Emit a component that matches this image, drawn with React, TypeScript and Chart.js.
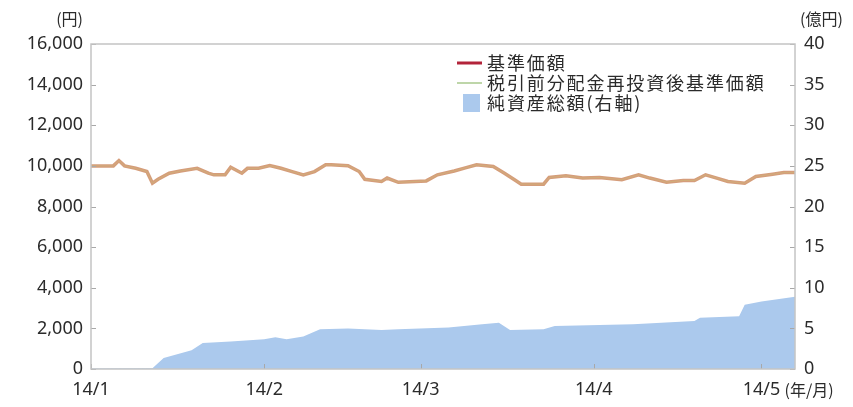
import { useEffect, useRef } from 'react';
import { Chart, registerables } from 'chart.js';

Chart.register(...registerables);

// Day index counted from 2014-01-01
const navDays = [0, 4, 5, 6, 8, 10, 11, 12, 14, 16, 19, 21, 22, 24, 25, 27, 28, 30, 32, 34, 36, 38, 40, 42, 43, 46, 48, 49, 52, 53, 55, 58, 60, 62, 65, 67, 69, 72, 74, 76, 77, 81, 82, 85, 88, 91, 95, 98, 100, 103, 106, 108, 110, 112, 114, 117, 119, 122, 124, 126];
const navValues = [10000, 10000, 10260, 10000, 9880, 9720, 9150, 9340, 9640, 9750, 9880, 9640, 9560, 9560, 9930, 9640, 9880, 9880, 10010, 9880, 9720, 9560, 9720, 10050, 10050, 10010, 9720, 9340, 9230, 9400, 9190, 9230, 9260, 9560, 9750, 9900, 10050, 9970, 9640, 9280, 9100, 9100, 9430, 9510, 9400, 9430, 9320, 9560, 9400, 9200, 9280, 9280, 9560, 9400, 9230, 9150, 9480, 9590, 9670, 9670];
const reinvValues = [10000, 10000, 10260, 10000, 9880, 9720, 9150, 9340, 9640, 9750, 9880, 9640, 9560, 9560, 9930, 9640, 9880, 9880, 10010, 9880, 9720, 9560, 9720, 10050, 10050, 10010, 9720, 9340, 9230, 9400, 9190, 9230, 9260, 9560, 9750, 9900, 10050, 9970, 9640, 9280, 9100, 9100, 9430, 9510, 9400, 9430, 9320, 9560, 9400, 9200, 9280, 9280, 9560, 9400, 9230, 9150, 9480, 9590, 9670, 9670];

const aumDays = [0, 11, 13, 18, 20, 25, 31, 33, 35, 38, 41, 46, 52, 55, 64, 70, 73, 75, 81, 83, 97, 108, 109, 116, 117, 120, 126];
const aumValues = [0.05, 0.1, 1.35, 2.3, 3.2, 3.4, 3.65, 3.9, 3.65, 4.0, 4.9, 5.0, 4.8, 4.9, 5.1, 5.5, 5.7, 4.8, 4.9, 5.3, 5.5, 5.9, 6.3, 6.5, 7.9, 8.3, 8.9];

const xTickDays = [0, 31, 59, 90, 120];
const xTickLabels = ['14/1', '14/2', '14/3', '14/4', '14/5'];
const leftTicks = [0, 2000, 4000, 6000, 8000, 10000, 12000, 14000, 16000];
const rightTicks = [0, 5, 10, 15, 20, 25, 30, 35, 40];
const seriesNames = ['基準価額', '税引前分配金再投資後基準価額', '純資産総額(右軸)'];
const legendColors = ['#b3243a', '#a9c98c', '#abc9ed'];

const NUM_FONT = "'Noto Sans', 'Noto Sans CJK JP', sans-serif";
const JP_FONT = "'Noto Sans CJK JP', 'Noto Sans', sans-serif";
const TEXT = '#2b2b2b';

const decorPlugin = {
  id: 'decor',
  afterDatasetsDraw(chart: any) {
    const { ctx, chartArea } = chart;
    const { left, right, top, bottom } = chartArea;
    const y = chart.scales.y;
    const y1 = chart.scales.y1;
    const x = chart.scales.x;
    ctx.save();
    // inner ticks
    ctx.strokeStyle = '#a8a8a8';
    ctx.lineWidth = 1;
    leftTicks.forEach((v) => {
      const py = Math.round(y.getPixelForValue(v)) + 0.5;
      ctx.beginPath();
      ctx.moveTo(left, py);
      ctx.lineTo(left + 5, py);
      ctx.stroke();
    });
    rightTicks.forEach((v) => {
      const py = Math.round(y1.getPixelForValue(v)) + 0.5;
      ctx.beginPath();
      ctx.moveTo(right - 5, py);
      ctx.lineTo(right, py);
      ctx.stroke();
    });
    xTickDays.forEach((v) => {
      const px = Math.round(x.getPixelForValue(v)) + 0.5;
      ctx.beginPath();
      ctx.moveTo(px, bottom);
      ctx.lineTo(px, bottom - 5);
      ctx.stroke();
    });
    // frame
    ctx.strokeStyle = '#c4c4c4';
    ctx.lineWidth = 1.5;
    ctx.strokeRect(left, top, right - left, bottom - top);

    // units
    ctx.fillStyle = TEXT;
    ctx.font = `16px ${JP_FONT}`;
    ctx.textBaseline = 'middle';
    ctx.textAlign = 'right';
    ctx.fillText('(円)', left - 8, 19);
    ctx.textAlign = 'left';
    ctx.fillText('(億円)', right + 5, 19);
    ctx.font = `16px ${JP_FONT}`;
    ctx.fillText('(年/月)', x.getPixelForValue(120) + 23, bottom + 21);

    // legend
    const lx = left + 366;
    const rows = [63, 83, 103];
    ctx.font = `18px ${JP_FONT}`;
    (ctx as any).letterSpacing = '1.9px';
    ctx.textAlign = 'left';
    rows.forEach((ry, i) => {
      if (i === 0) {
        ctx.strokeStyle = legendColors[0];
        ctx.lineWidth = 3;
        ctx.beginPath();
        ctx.moveTo(lx, ry);
        ctx.lineTo(lx + 25, ry);
        ctx.stroke();
      } else if (i === 1) {
        ctx.strokeStyle = legendColors[1];
        ctx.lineWidth = 1.5;
        ctx.beginPath();
        ctx.moveTo(lx, ry);
        ctx.lineTo(lx + 25, ry);
        ctx.stroke();
      } else {
        ctx.fillStyle = legendColors[2];
        ctx.fillRect(lx + 6, ry - 9, 17, 18);
      }
      ctx.fillStyle = TEXT;
      ctx.fillText(seriesNames[i], lx + 30, ry);
    });
    ctx.restore();
  },
};

export default function App() {
  const ref = useRef<HTMLCanvasElement | null>(null);
  useEffect(() => {
    document.body.style.margin = '0';
    const canvas = ref.current;
    if (!canvas) return;
    const chart = new Chart(canvas, {
      type: 'line',
      data: {
        datasets: [
          {
            label: seriesNames[1],
            data: navDays.map((d, i) => ({ x: d, y: reinvValues[i] })),
            borderColor: 'rgba(205,185,120,0.55)',
            borderWidth: 1,
            pointRadius: 0,
            tension: 0,
            yAxisID: 'y',
            order: 1,
          },
          {
            label: seriesNames[0],
            data: navDays.map((d, i) => ({ x: d, y: navValues[i] })),
            borderColor: '#d59d7b',
            borderWidth: 3.5,
            pointRadius: 0,
            tension: 0,
            yAxisID: 'y',
            order: 2,
          },
          {
            label: seriesNames[2],
            data: aumDays.map((d, i) => ({ x: d, y: aumValues[i] })),
            borderWidth: 0,
            borderColor: 'rgba(0,0,0,0)',
            backgroundColor: legendColors[2],
            fill: 'origin',
            pointRadius: 0,
            tension: 0,
            yAxisID: 'y1',
            order: 3,
          },
        ],
      },
      options: {
        animation: false,
        responsive: true,
        maintainAspectRatio: false,
        layout: { padding: { top: 44, left: 0, right: 0, bottom: 0 } },
        plugins: { legend: { display: false }, tooltip: { enabled: false } },
        scales: {
          x: {
            type: 'linear',
            min: 0,
            max: 126,
            grid: { display: false, drawTicks: false },
            border: { display: false },
            afterBuildTicks: (scale: any) => {
              scale.ticks = xTickDays.map((v) => ({ value: v }));
            },
            afterFit: (scale: any) => {
              scale.height = 38;
            },
            ticks: {
              autoSkip: false,
              maxRotation: 0,
              padding: 10,
              color: TEXT,
              font: { family: NUM_FONT, size: 18 },
              callback: (v: any) => {
                const i = xTickDays.indexOf(Number(v));
                return i >= 0 ? xTickLabels[i] : '';
              },
            },
          },
          y: {
            position: 'left',
            min: 0,
            max: 16000,
            grid: { display: false, drawTicks: false },
            border: { display: false },
            afterBuildTicks: (scale: any) => {
              scale.ticks = leftTicks.map((v) => ({ value: v }));
            },
            afterFit: (scale: any) => {
              scale.width = 91;
            },
            ticks: {
              padding: 8,
              color: TEXT,
              font: { family: NUM_FONT, size: 18 },
              callback: (v: any) => Number(v).toLocaleString('en-US'),
            },
          },
          y1: {
            position: 'right',
            min: 0,
            max: 40,
            grid: { display: false, drawTicks: false },
            border: { display: false },
            afterBuildTicks: (scale: any) => {
              scale.ticks = rightTicks.map((v) => ({ value: v }));
            },
            afterFit: (scale: any) => {
              scale.width = 58;
            },
            ticks: {
              padding: 9,
              color: TEXT,
              font: { family: NUM_FONT, size: 18 },
              callback: (v: any) => String(v),
            },
          },
        },
      },
      plugins: [decorPlugin],
    });
    return () => chart.destroy();
  }, []);
  return (
    <div style={{ width: 853, height: 407, position: 'relative' }}>
      <canvas ref={ref} />
    </div>
  );
}
